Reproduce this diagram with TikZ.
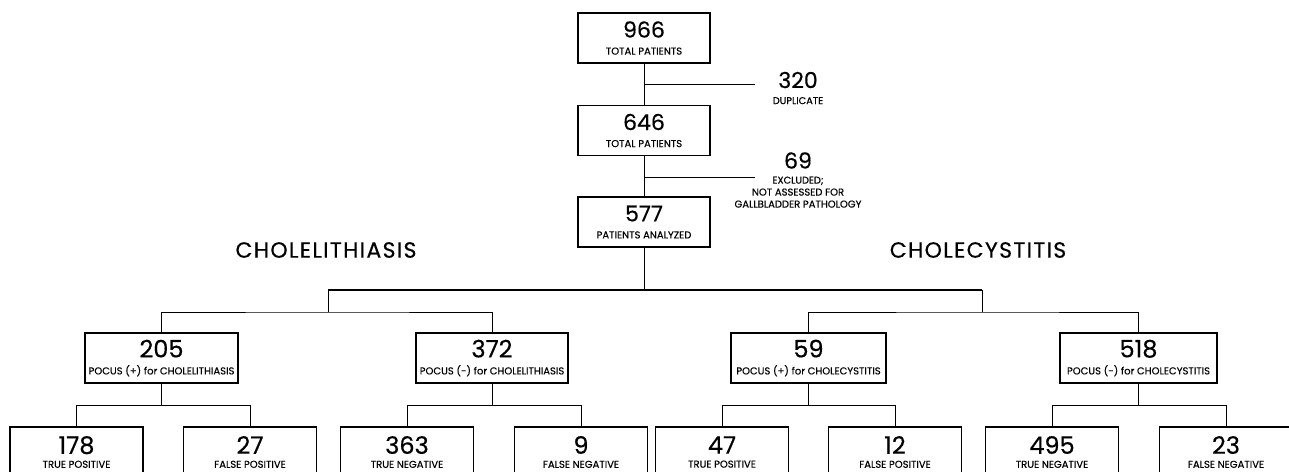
\documentclass[tikz,border=0pt]{standalone}
\usepackage{fontspec}
\setmainfont{Poppins}[FakeBold=0.4]
\newcommand{\bignum}[1]{\fontsize{#1}{#1}\selectfont}
\newcommand{\smalltxt}{\fontsize{9.8}{13.5}\selectfont}
\newcommand{\tally}[4][5pt]{\bignum{#2}#3\\[#1]\fontsize{10}{11}\selectfont #4}

\begin{document}
\begin{tikzpicture}[x=1pt,y=-1pt,
    box/.style={draw,line width=1.1pt,inner sep=0pt,minimum height=50pt,align=center},
    leaf/.style={box,minimum width=133pt},
    link/.style={line width=0.9pt},
    bar/.style={line width=2pt},
    head/.style={font=\fontsize{22}{22}\selectfont\addfontfeatures{LetterSpace=6}}]
  \useasboundingbox (0,0) rectangle (1289,471);
  \clip (0,0) rectangle (1289,471);
  % screening chain
  \node[box,minimum width=132pt](ALL) at (644,38){\tally{22}{966}{TOTAL PATIENTS}};
  \node[box,minimum width=132pt](DEDUP) at (644,130.5){\tally{22}{646}{TOTAL PATIENTS}};
  \node[box,minimum width=132pt](ANA) at (644,222){\tally{22}{577}{PATIENTS ANALYZED}};
  \node[align=center](DUP) at (798,88){\bignum{22}320\\[4pt]\smalltxt DUPLICATE};
  \node[align=center](EXCL) at (798,180){\bignum{22}69\\[3pt]\smalltxt EXCLUDED;\\NOT ASSESSED FOR\\GALLBLADDER PATHOLOGY};
  \coordinate (DUPj) at (644,84);  \coordinate (DUPe) at (755,84);
  \coordinate (EXCLj) at (644,177); \coordinate (EXCLe) at (755,177);
  \draw[link] (ALL) -- (DEDUP);
  \draw[link] (DEDUP) -- (ANA);
  \draw[link] (DUPj) -- (DUPe);
  \draw[link] (EXCLj) -- (EXCLe);
  % the two questions
  \node[head](LITHhead) at (326,250){CHOLELITHIASIS};
  \node[head](CYSThead) at (978,250){CHOLECYSTITIS};
  \node[box,minimum width=153pt](LITHpos) at (161.5,358){\tally{24}{205}{POCUS (+) for CHOLELITHIASIS}};
  \node[box,minimum width=152pt](LITHneg) at (492,358){\tally{24}{372}{POCUS (-) for CHOLELITHIASIS}};
  \node[box,minimum width=155pt](CYSTpos) at (808.5,358){\tally{24}{59}{POCUS (+) for CHOLECYSTITIS}};
  \node[box,minimum width=157pt](CYSTneg) at (1138.5,358){\tally{24}{518}{POCUS (-) for CHOLECYSTITIS}};
  \coordinate (split) at (644,290);
  \coordinate (LITHhub) at (328,290); \coordinate (LITHfork) at (328,312);
  \coordinate (CYSThub) at (982,290); \coordinate (CYSTfork) at (982,312);
  \draw[link] (ANA) -- (split);
  \draw[bar] (LITHhub) -- (CYSThub);
  \draw[link] (LITHhub) -- (LITHfork);
  \draw[link] (CYSThub) -- (CYSTfork);
  \draw[link] (LITHpos.north) |- (LITHfork) -| (LITHneg.north);
  \draw[link] (CYSTpos.north) |- (CYSTfork) -| (CYSTneg.north);
  % outcomes
  \node[leaf](LITHtp) at (76.5,452){\tally[2pt]{24}{178}{TRUE POSITIVE}};
  \node[leaf](LITHfp) at (250,452){\tally[2pt]{24}{27}{FALSE POSITIVE}};
  \node[leaf](LITHtn) at (407,452){\tally[2pt]{24}{363}{TRUE NEGATIVE}};
  \node[leaf](LITHfn) at (581,452){\tally[2pt]{24}{9}{FALSE NEGATIVE}};
  \node[leaf](CYSTtp) at (722,452){\tally[2pt]{24}{47}{TRUE POSITIVE}};
  \node[leaf](CYSTfp) at (895,452){\tally[2pt]{24}{12}{FALSE POSITIVE}};
  \node[leaf](CYSTtn) at (1052,452){\tally[2pt]{24}{495}{TRUE NEGATIVE}};
  \node[leaf](CYSTfn) at (1226,452){\tally[2pt]{24}{23}{FALSE NEGATIVE}};
  \foreach \p/\l/\r in {LITHpos/LITHtp/LITHfp,LITHneg/LITHtn/LITHfn,CYSTpos/CYSTtp/CYSTfp,CYSTneg/CYSTtn/CYSTfn}
    \draw[link] (\p.south) -- ++(0,22) coordinate (\p-fork) (\l.north) |- (\p-fork) -| (\r.north);
\end{tikzpicture}
\end{document}
